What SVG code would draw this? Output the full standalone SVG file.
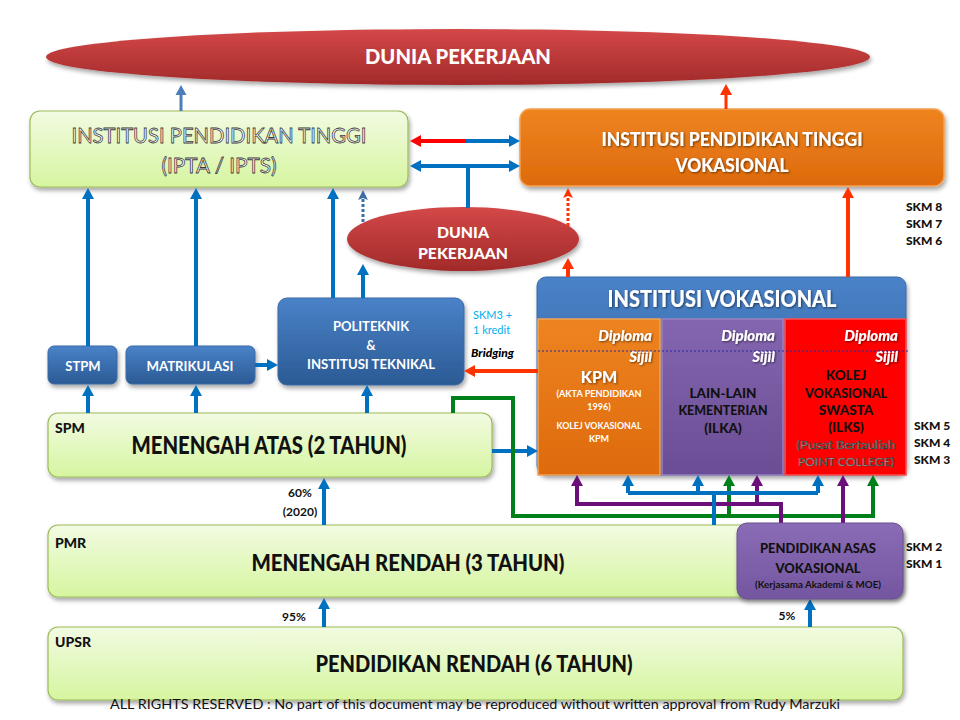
<svg xmlns="http://www.w3.org/2000/svg" width="960" height="720" viewBox="0 0 960 720">
<defs>
<linearGradient id="gGreen" x1="0" y1="0" x2="0" y2="1"><stop offset="0" stop-color="#f2fbe2"/><stop offset="1" stop-color="#d6f5a0"/></linearGradient>
<linearGradient id="gBlue" x1="0" y1="0" x2="0" y2="1"><stop offset="0" stop-color="#4a82c8"/><stop offset="1" stop-color="#2b5a94"/></linearGradient>
<linearGradient id="gRedEl" x1="0" y1="0" x2="0" y2="1"><stop offset="0" stop-color="#d44848"/><stop offset="1" stop-color="#a22a2a"/></linearGradient>
<linearGradient id="gOrange" x1="0" y1="0" x2="0" y2="1"><stop offset="0" stop-color="#ee8420"/><stop offset="1" stop-color="#de6a0c"/></linearGradient>
<linearGradient id="gPurple" x1="0" y1="0" x2="0" y2="1"><stop offset="0" stop-color="#8466b0"/><stop offset="1" stop-color="#6a4d94"/></linearGradient>
<linearGradient id="gPurple2" x1="0" y1="0" x2="0" y2="1"><stop offset="0" stop-color="#8a6cb6"/><stop offset="1" stop-color="#7456a0"/></linearGradient>
<filter id="sh" x="-10%" y="-10%" width="130%" height="140%"><feDropShadow dx="1.5" dy="3" stdDeviation="2" flood-color="#000" flood-opacity="0.35"/></filter>
<filter id="tsh" x="-10%" y="-20%" width="130%" height="150%"><feDropShadow dx="1" dy="1" stdDeviation="0.8" flood-color="#000" flood-opacity="0.55"/></filter>
<marker id="mBlue" markerWidth="12" markerHeight="12" refX="4" refY="6" orient="auto-start-reverse" markerUnits="userSpaceOnUse"><path d="M0,0 L11,6 L0,12 z" fill="#0070c0"/></marker>
<marker id="mBlue2" markerWidth="12" markerHeight="12" refX="4" refY="6" orient="auto" markerUnits="userSpaceOnUse"><path d="M0,0.5 L10,6 L0,11.5 z" fill="#4a7ebb"/></marker>
<marker id="mBlueD" markerWidth="12" markerHeight="12" refX="4" refY="6" orient="auto" markerUnits="userSpaceOnUse"><path d="M0,1 L10,6 L0,11 L2,6 z" fill="#3b6ea5"/></marker>
<marker id="mRed" markerWidth="12" markerHeight="12" refX="4" refY="6" orient="auto-start-reverse" markerUnits="userSpaceOnUse"><path d="M0,0 L11,6 L0,12 z" fill="#ff3300"/></marker>
<marker id="mRedD" markerWidth="12" markerHeight="12" refX="4" refY="6" orient="auto" markerUnits="userSpaceOnUse"><path d="M0,1 L10,6 L0,11 L2,6 z" fill="#ff3300"/></marker>
<marker id="mRed2" markerWidth="12" markerHeight="12" refX="4" refY="6" orient="auto-start-reverse" markerUnits="userSpaceOnUse"><path d="M0,0 L11,6 L0,12 z" fill="#ff0000"/></marker>
<marker id="mGreen" markerWidth="12" markerHeight="12" refX="4" refY="6" orient="auto" markerUnits="userSpaceOnUse"><path d="M0,0 L11,6 L0,12 z" fill="#00801a"/></marker>
<marker id="mPurple" markerWidth="12" markerHeight="12" refX="4" refY="6" orient="auto" markerUnits="userSpaceOnUse"><path d="M0,0 L11,6 L0,12 z" fill="#6b0f7a"/></marker>
</defs>
<style>
text{font-family:Lato,"Liberation Sans",sans-serif;font-weight:bold;text-anchor:middle}
.w{fill:#fff}
.d{fill:#111}
.h{font-weight:900}
.lbl{font-size:14px;text-anchor:start;fill:#111;font-weight:900}
.pct{font-size:12px;fill:#111}
.skm{font-size:12px;text-anchor:start;fill:#111;font-weight:900}
.hol{fill:#ffffff;stroke:#3a3a3a;stroke-width:0.8px;font-weight:normal}
.hol2{fill:#e8e8e8;stroke:#333;stroke-width:0.6px;font-weight:normal}
.dip{font-size:15px;font-style:italic;text-anchor:end;fill:#fff;font-weight:900}
.gbox{fill:url(#gGreen);stroke:#9bbb59;stroke-width:1.2}
.bbox{fill:url(#gBlue);stroke:#3a6aa5;stroke-width:1}
.cb{fill:none;stroke:#0070c0;stroke-width:4}
.cr{fill:none;stroke:#ff3300;stroke-width:4}
.cg{fill:none;stroke:#00801a;stroke-width:4}
.cp{fill:none;stroke:#6b0f7a;stroke-width:4}
</style>

<g id="dunia-top">
<ellipse cx="458" cy="57" rx="412" ry="28" fill="url(#gRedEl)" filter="url(#sh)"/>
<text x="458" y="64" class="w h" font-size="20" textLength="186" lengthAdjust="spacingAndGlyphs">DUNIA PEKERJAAN</text>
</g>

<g id="ipt">
<rect x="30" y="111" width="378" height="76" rx="10" class="gbox" filter="url(#sh)"/>
<text x="219" y="143" class="hol" font-size="21" textLength="295" lengthAdjust="spacingAndGlyphs">INSTITUSI PENDIDIKAN TINGGI</text>
<text x="219" y="173" class="hol" font-size="21" textLength="115" lengthAdjust="spacingAndGlyphs">(IPTA / IPTS)</text>
</g>

<g id="iptv">
<rect x="520" y="109" width="424" height="77" rx="10" fill="url(#gOrange)" stroke="#f5a050" stroke-width="1.5" filter="url(#sh)"/>
<text x="732" y="146" class="w h" font-size="19" textLength="261" lengthAdjust="spacingAndGlyphs" filter="url(#tsh)">INSTITUSI PENDIDIKAN TINGGI</text>
<text x="732" y="172" class="w h" font-size="19" textLength="113" lengthAdjust="spacingAndGlyphs" filter="url(#tsh)">VOKASIONAL</text>
</g>

<g id="dunia-mid">
<ellipse cx="463" cy="239" rx="116" ry="32" fill="url(#gRedEl)" filter="url(#sh)"/>
<text x="463" y="238" class="w h" font-size="15" textLength="52" lengthAdjust="spacingAndGlyphs">DUNIA</text>
<text x="463" y="259" class="w h" font-size="15" textLength="90" lengthAdjust="spacingAndGlyphs">PEKERJAAN</text>
</g>

<g id="politeknik">
<rect x="278" y="298" width="186" height="87" rx="9" class="bbox" filter="url(#sh)"/>
<text x="371" y="331" class="w" font-size="13">POLITEKNIK</text>
<text x="371" y="350" class="w" font-size="13">&amp;</text>
<text x="371" y="369" class="w" font-size="13" textLength="128" lengthAdjust="spacingAndGlyphs">INSTITUSI TEKNIKAL</text>
</g>

<g id="stpm">
<rect x="48" y="346" width="69" height="38" rx="6" class="bbox" filter="url(#sh)"/>
<text x="83" y="371" class="w" font-size="13">STPM</text>
</g>

<g id="matrikulasi">
<rect x="126" y="346" width="129" height="38" rx="6" class="bbox" filter="url(#sh)"/>
<text x="190" y="371" class="w" font-size="13" textLength="87" lengthAdjust="spacingAndGlyphs">MATRIKULASI</text>
</g>

<g id="institusi-vokasional">
<rect x="537" y="277" width="369" height="198" rx="9" fill="url(#gBlue)" stroke="#3a6aa5" filter="url(#sh)"/>
<text x="722" y="307" class="w h" font-size="22" textLength="229" lengthAdjust="spacingAndGlyphs" filter="url(#tsh)">INSTITUSI VOKASIONAL</text>
</g>

<g id="kpm">
<rect x="538" y="319" width="122" height="156" fill="url(#gOrange)" stroke="#f2a35a" stroke-width="1.5"/>
<text x="652" y="341" class="dip" filter="url(#tsh)">Diploma</text>
<text x="652" y="362" class="dip" filter="url(#tsh)">Sijil</text>
<text x="599" y="383" class="w h" font-size="16" filter="url(#tsh)">KPM</text>
<text x="599" y="397" class="w" font-size="9" textLength="85" lengthAdjust="spacingAndGlyphs">(AKTA PENDIDIKAN</text>
<text x="599" y="410" class="w" font-size="9">1996)</text>
<text x="599" y="429" class="w" font-size="9" textLength="85" lengthAdjust="spacingAndGlyphs">KOLEJ VOKASIONAL</text>
<text x="599" y="442" class="w" font-size="9">KPM</text>
</g>

<g id="ilka">
<rect x="662" y="319" width="121" height="156" fill="url(#gPurple)" stroke="#9a82c2" stroke-width="1.5"/>
<text x="775" y="341" class="dip" filter="url(#tsh)">Diploma</text>
<text x="775" y="362" class="dip" filter="url(#tsh)">Sijil</text>
<text x="723" y="398" class="d h" font-size="13.5">LAIN-LAIN</text>
<text x="723" y="415" class="d h" font-size="13.5" textLength="89" lengthAdjust="spacingAndGlyphs">KEMENTERIAN</text>
<text x="723" y="433" class="d h" font-size="13.5">(ILKA)</text>
</g>

<g id="ilks">
<rect x="785" y="319" width="121" height="156" fill="#ff0000" stroke="#ff5050" stroke-width="1.5"/>
<text x="898" y="341" class="dip" filter="url(#tsh)">Diploma</text>
<text x="898" y="362" class="dip" filter="url(#tsh)">Sijil</text>
<text x="846" y="380" class="d h" font-size="13.5">KOLEJ</text>
<text x="846" y="398" class="d h" font-size="13.5" textLength="82" lengthAdjust="spacingAndGlyphs">VOKASIONAL</text>
<text x="846" y="415" class="d h" font-size="13.5">SWASTA</text>
<text x="846" y="432" class="d h" font-size="13.5">(ILKS)</text>
<text x="846" y="449" class="hol2" font-size="11" textLength="99" lengthAdjust="spacingAndGlyphs">(Pusat Bertauliah</text>
<text x="846" y="466" class="hol2" font-size="11" textLength="96" lengthAdjust="spacingAndGlyphs">POINT COLLEGE)</text>
</g>

<line x1="538" y1="351" x2="910" y2="351" stroke="#2a2aa0" stroke-width="1" stroke-dasharray="2 2"/>

<g id="spm">
<rect x="48" y="413" width="444" height="64" rx="10" class="gbox" filter="url(#sh)"/>
<text x="55" y="433" class="lbl">SPM</text>
<text x="269" y="454" class="d h" font-size="24" textLength="275" lengthAdjust="spacingAndGlyphs">MENENGAH ATAS (2 TAHUN)</text>
</g>

<g id="pmr">
<rect x="48" y="525" width="855" height="72" rx="10" class="gbox" filter="url(#sh)"/>
<text x="55" y="548" class="lbl">PMR</text>
<text x="408" y="571" class="d h" font-size="22" textLength="313" lengthAdjust="spacingAndGlyphs">MENENGAH RENDAH (3 TAHUN)</text>
</g>

<g id="upsr">
<rect x="48" y="627" width="855" height="73" rx="10" class="gbox" filter="url(#sh)"/>
<text x="55" y="647" class="lbl">UPSR</text>
<text x="474" y="672" class="d h" font-size="22" textLength="317" lengthAdjust="spacingAndGlyphs">PENDIDIKAN RENDAH (6 TAHUN)</text>
</g>

<g id="connectors">
<path class="cb" style="stroke:#4a7ebb;stroke-width:3" d="M181,111 V91" marker-end="url(#mBlue2)"/>
<path class="cr" style="stroke-width:3" d="M726,109 V91" marker-end="url(#mRed)"/>
<path class="cb" d="M88,346 V195" marker-end="url(#mBlue)"/>
<path class="cb" d="M196,346 V195" marker-end="url(#mBlue)"/>
<path class="cb" d="M333,298 V195" marker-end="url(#mBlue)"/>
<path class="cb" d="M363,298 V271" marker-end="url(#mBlue)"/>
<path fill="none" stroke="#3b6ea5" stroke-width="3" stroke-dasharray="3 2" d="M363,222 V196" marker-end="url(#mBlueD)"/>
<path class="cb" d="M468,166 V208"/>
<path class="cb" d="M417,166 H513" marker-start="url(#mBlue)" marker-end="url(#mBlue)"/>
<path fill="none" stroke="#ff0000" stroke-width="4" d="M466,141 H417" marker-end="url(#mRed2)"/>
<path class="cb" d="M466,141 H513" marker-end="url(#mBlue)"/>
<path class="cr" d="M848,277 V194" marker-end="url(#mRed)"/>
<path class="cr" d="M568,277 V265" marker-end="url(#mRed)"/>
<path fill="none" stroke="#ff3300" stroke-width="3" stroke-dasharray="3 2" d="M568,226 V194" marker-end="url(#mRedD)"/>
<path class="cr" d="M538,371 H471" marker-end="url(#mRed)"/>
<path class="cb" d="M88,413 V392" marker-end="url(#mBlue)"/>
<path class="cb" d="M196,413 V392" marker-end="url(#mBlue)"/>
<path class="cb" d="M367,413 V392" marker-end="url(#mBlue)"/>
<path class="cb" d="M255,365 H271" marker-end="url(#mBlue)"/>
<path class="cb" d="M324,525 V485" marker-end="url(#mBlue)"/>
<path class="cb" d="M492,451 H531" marker-end="url(#mBlue)"/>
<path class="cb" d="M324,627 V605" marker-end="url(#mBlue)"/>
<path class="cb" d="M810,627 V606" marker-end="url(#mBlue)"/>
<path class="cg" d="M453,413 V398 H513 V516 H873 V482" marker-end="url(#mGreen)"/>
<path class="cg" d="M729,516 V482" marker-end="url(#mGreen)"/>
<path class="cp" d="M781,526 V504 H577 V482" marker-end="url(#mPurple)"/>
<path class="cp" d="M757,504 V482" marker-end="url(#mPurple)"/>
<path class="cp" d="M843,526 V482" marker-end="url(#mPurple)"/>
<path class="cb" d="M714,525 V493"/>
<path class="cb" d="M628,493 H818"/>
<path class="cb" d="M628,493 V482" marker-end="url(#mBlue)"/>
<path class="cb" d="M698,493 V482" marker-end="url(#mBlue)"/>
<path class="cb" d="M818,493 V482" marker-end="url(#mBlue)"/>
</g>

<g id="pendidikan-asas-vokasional">
<rect x="737" y="523" width="166" height="76" rx="10" fill="url(#gPurple2)" stroke="#6a5090" stroke-width="1" filter="url(#sh)"/>
<text x="818" y="553" class="d h" font-size="13" textLength="116" lengthAdjust="spacingAndGlyphs">PENDIDIKAN ASAS</text>
<text x="818" y="573" class="d h" font-size="13">VOKASIONAL</text>
<text x="818" y="588" class="d" font-size="8.5" textLength="126" lengthAdjust="spacingAndGlyphs">(Kerjasama Akademi &amp; MOE)</text>
</g>

<g id="labels">
<text x="473" y="319" font-size="11" fill="#00b0f0" style="font-weight:normal;text-anchor:start">SKM3 +</text>
<text x="473" y="334" font-size="11" fill="#00b0f0" style="font-weight:normal;text-anchor:start">1 kredit</text>
<text x="471" y="357" font-size="12" fill="#000" style="font-style:italic;text-anchor:start;font-weight:900">Bridging</text>
<text x="300" y="497" class="pct">60%</text>
<text x="300" y="516" class="pct">(2020)</text>
<text x="294" y="621" class="pct">95%</text>
<text x="787" y="620" class="pct">5%</text>
<text x="906" y="211" class="skm">SKM 8</text>
<text x="906" y="228" class="skm">SKM 7</text>
<text x="906" y="245" class="skm">SKM 6</text>
<text x="914" y="430" class="skm">SKM 5</text>
<text x="914" y="447" class="skm">SKM 4</text>
<text x="914" y="464" class="skm">SKM 3</text>
<text x="906" y="551" class="skm">SKM 2</text>
<text x="906" y="568" class="skm">SKM 1</text>
<text x="475" y="709" font-size="12.5" fill="#111" style="font-weight:normal" textLength="730" lengthAdjust="spacingAndGlyphs">ALL RIGHTS RESERVED : No part of this document may be reproduced without  written approval from Rudy Marzuki</text>
</g>
</svg>
